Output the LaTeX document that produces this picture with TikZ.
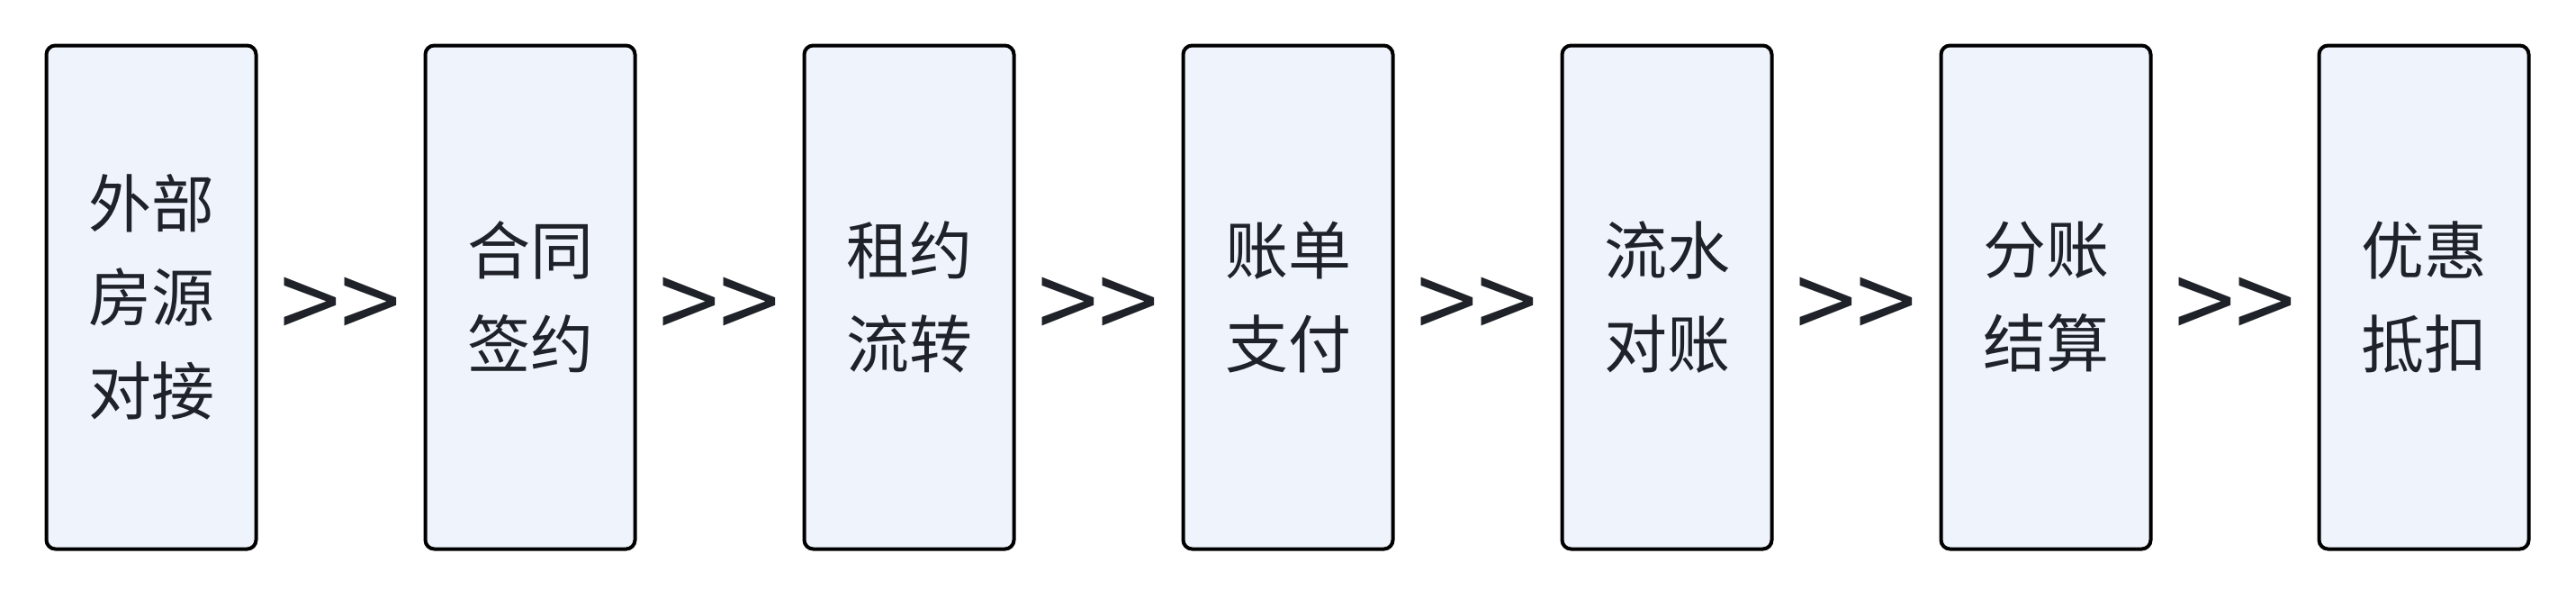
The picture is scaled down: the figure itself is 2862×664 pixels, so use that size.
\documentclass[tikz,border=0pt]{standalone}
\usepackage{fontspec}
\setmainfont{Noto Sans CJK SC}
\definecolor{stagefill}{HTML}{EFF3FC}
\definecolor{stagetext}{HTML}{1F2329}

\tikzset{
    stage/.style={draw=black, line width=2pt, rounded corners=5pt, fill=stagefill,
        minimum width=116.5pt, minimum height=279.5pt, inner sep=0pt,
        align=center, text=stagetext, font=\fontsize{35pt}{52pt}\selectfont},
    chevron/.style={inner sep=0pt, yshift=-7pt, text=stagetext, font=\fontsize{60pt}{60pt}\selectfont}
}

\begin{document}
\begin{tikzpicture}[x=0.5pt,y=-0.5pt]

                \useasboundingbox (0,0) rectangle (2862,664);

                % Stages
                \node[stage] (s1) at (168,330) {外部\\房源\\对接};
                \node[stage] (s2) at (589,330) {合同\\签约};
                \node[stage] (s3) at (1010,330) {租约\\流转};
                \node[stage] (s4) at (1431,330) {账单\\支付};
                \node[stage] (s5) at (1852,330) {流水\\对账};
                \node[stage] (s6) at (2273,330) {分账\\结算};
                \node[stage] (s7) at (2693,330) {优惠\\抵扣};

                % Chevrons
                \path (s1) -- (s2) node[midway, chevron] (c1) {>{}>};
                \path (s2) -- (s3) node[midway, chevron] (c2) {>{}>};
                \path (s3) -- (s4) node[midway, chevron] (c3) {>{}>};
                \path (s4) -- (s5) node[midway, chevron] (c4) {>{}>};
                \path (s5) -- (s6) node[midway, chevron] (c5) {>{}>};
                \path (s6) -- (s7) node[midway, chevron] (c6) {>{}>};

            \end{tikzpicture}
\end{document}
